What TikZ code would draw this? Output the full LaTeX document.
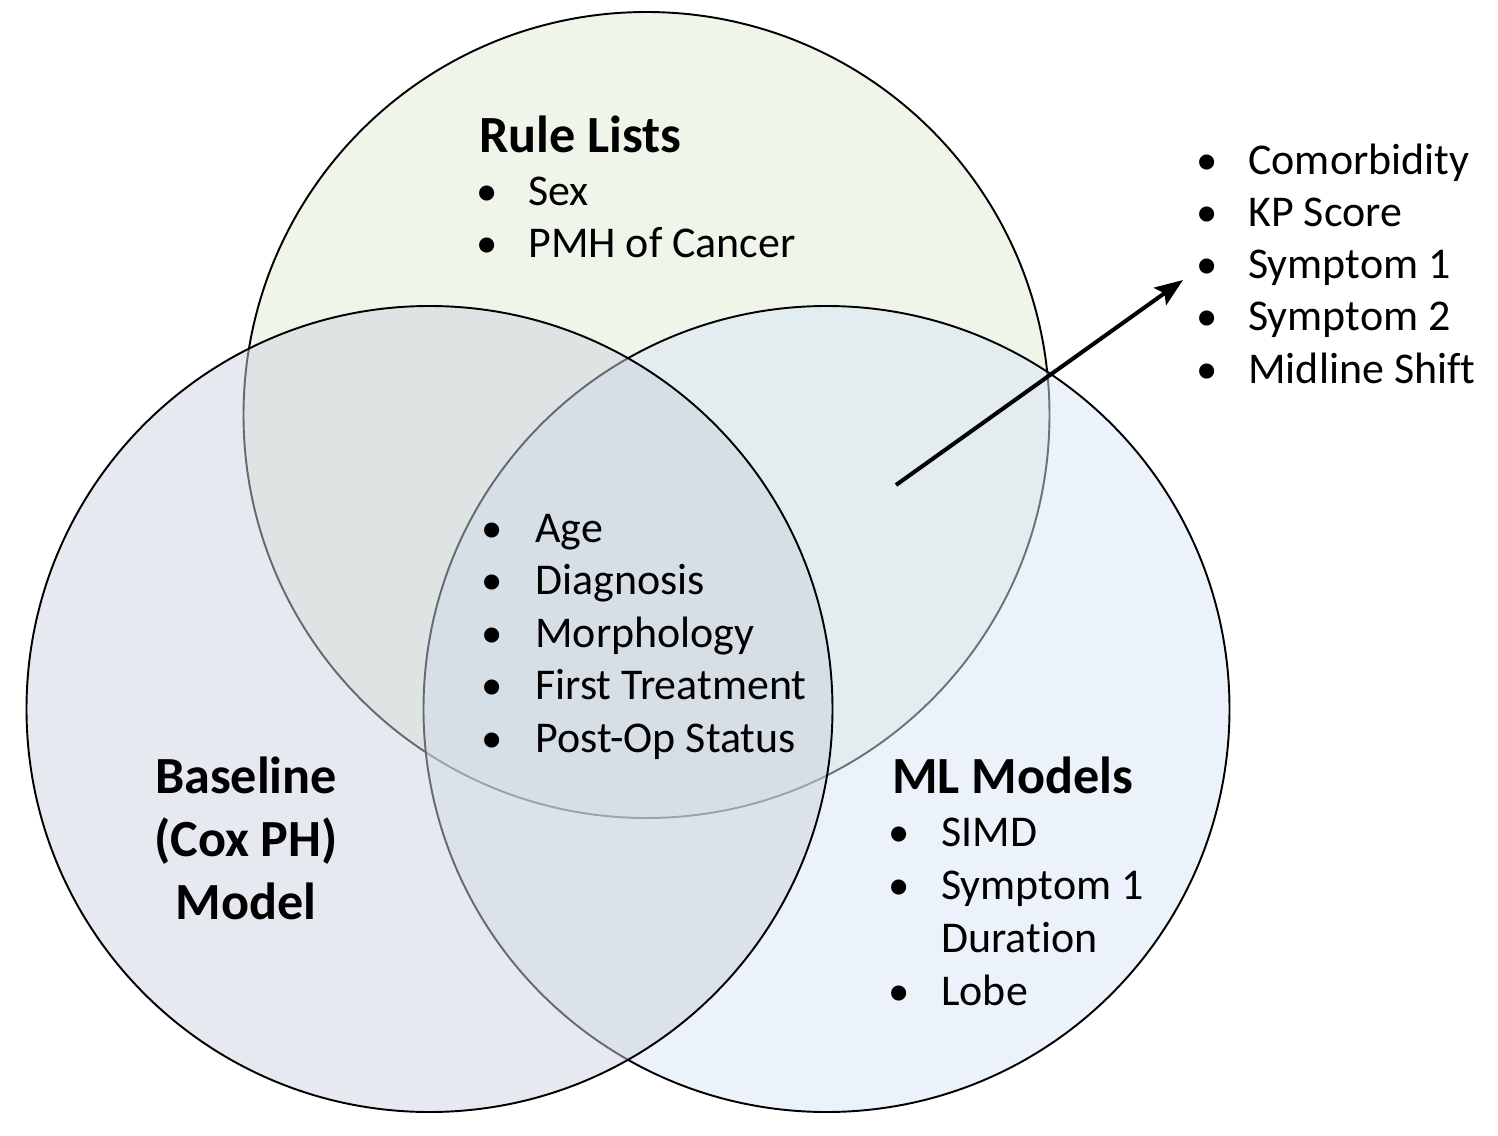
\documentclass[tikz,border=0pt]{standalone}
\usepackage{fontspec}
\setmainfont{Carlito}[Ligatures=NoCommon]
\usetikzlibrary{arrows.meta}
\definecolor{ctop}{RGB}{225,235,213}
\definecolor{cright}{RGB}{215,229,245}
\definecolor{cleft}{RGB}{205,211,223}
\tikzset{
  venn/.style={line width=1.1pt, draw=black, fill opacity=0.5},
  txt/.style={anchor=base west, inner sep=0pt, font=\fontsize{25}{30}\selectfont},
  blt/.style={anchor=base, inner sep=0pt, font=\fontsize{24.3}{29}\selectfont},
  hd/.style={inner sep=0pt, font=\fontsize{29.7}{35}\selectfont\bfseries},
  arr/.style={line width=2.3pt, -{Stealth[length=16pt,width=12pt,inset=3pt]}},
}
\begin{document}
\begin{tikzpicture}[x=0.02cm,y=-0.02cm]
\useasboundingbox (0,0) rectangle (1498,1136);
% circles
\coordinate (ct) at (646.5,415);
\coordinate (cr) at (826.5,709);
\coordinate (cl) at (429.5,709);
\draw[venn, fill=ctop] (ct) circle (403);
\draw[venn, fill=cright] (cr) circle (403);
\draw[venn, fill=cleft] (cl) circle (403);

% Rule Lists
\node[hd, anchor=base west] (rl) at (479,152) {Rule Lists};
\node[blt] (rlb1) at (487,205) {•};
\node[txt] (rl1) at (528,205) {Sex};
\node[blt] (rlb2) at (487,257.5) {•};
\node[txt] (rl2) at (528,257.5) {PMH of Cancer};

% centre list
\node[blt] (cb1) at (492.5,542) {•};
\node[txt] (c1) at (535,542) {Age};
\node[blt] (cb2) at (492.5,594.5) {•};
\node[txt] (c2) at (535,594.5) {Diagnosis};
\node[blt] (cb3) at (492.5,647) {•};
\node[txt] (c3) at (535,647) {Morphology};
\node[blt] (cb4) at (492.5,699.5) {•};
\node[txt] (c4) at (535,699.5) {First Treatment};
\node[blt] (cb5) at (492.5,752) {•};
\node[txt] (c5) at (535,752) {Post-Op Status};

% Baseline
\node[hd, anchor=base] (b1) at (246,793) {Baseline};
\node[hd, anchor=base] (b2) at (246,856) {(Cox PH)};
\node[hd, anchor=base] (b3) at (246,919) {Model};

% ML Models
\node[hd, anchor=base west] (ml) at (892,793) {ML Models};
\node[blt] (mb1) at (899,846) {•};
\node[txt] (m1) at (941,846) {SIMD};
\node[blt] (mb2) at (899,899) {•};
\node[txt] (m2) at (941,899) {Symptom 1};
\node[txt] (m3) at (941,952) {Duration};
\node[blt] (mb4) at (899,1005) {•};
\node[txt] (m4) at (941,1005) {Lobe};

% right list
\node[blt] (rb1) at (1207,174) {•};
\node[txt] (r1) at (1248,174) {Comorbidity};
\node[blt] (rb2) at (1207,226) {•};
\node[txt] (r2) at (1248,226) {KP Score};
\node[blt] (rb3) at (1207,278) {•};
\node[txt] (r3) at (1248,278) {Symptom 1};
\node[blt] (rb4) at (1207,330.5) {•};
\node[txt] (r4) at (1248,330.5) {Symptom 2};
\node[blt] (rb5) at (1207,383) {•};
\node[txt] (r5) at (1248,383) {Midline Shift};

% arrow
\coordinate (as) at (896,485);
\coordinate (ae) at (1183,280);
\draw[arr] (as) -- (ae);
\end{tikzpicture}
\end{document}
